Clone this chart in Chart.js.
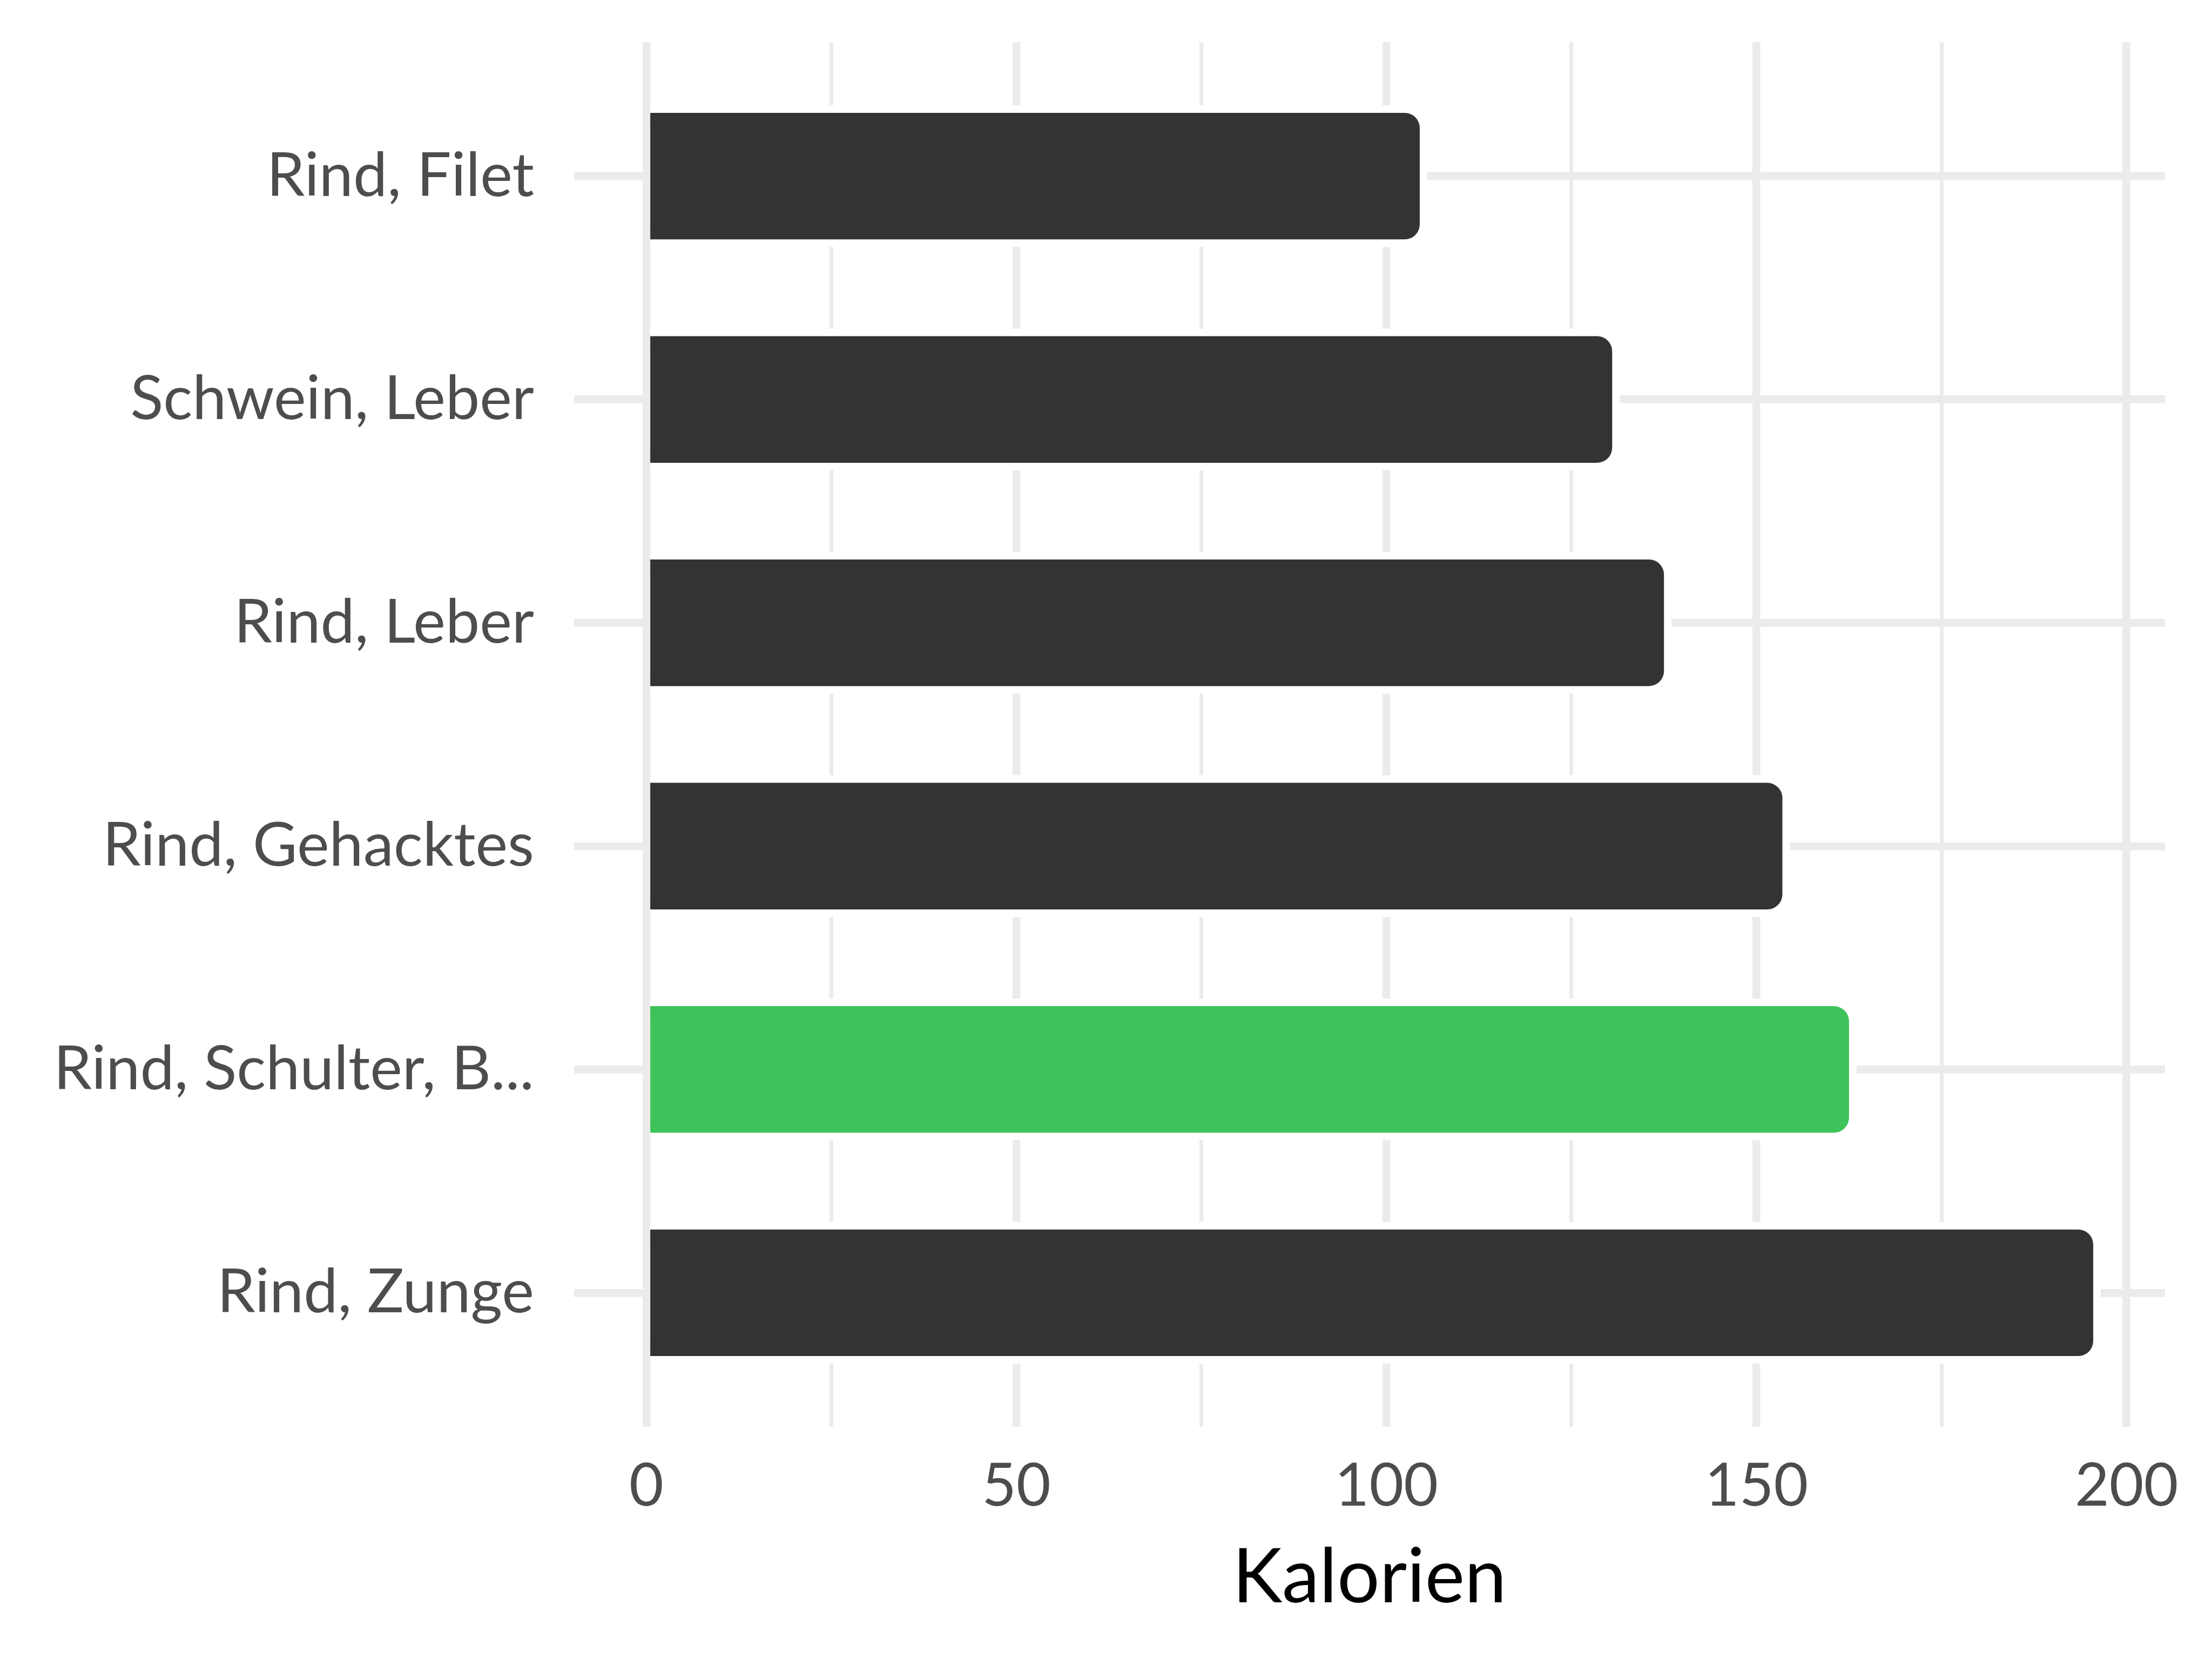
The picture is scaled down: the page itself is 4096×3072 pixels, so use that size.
<!DOCTYPE html>
<html>
<head>
<meta charset="utf-8">
<script src="https://cdn.jsdelivr.net/npm/chart.js@4/dist/chart.umd.min.js"></script>
<style>
  html, body { margin: 0; padding: 0; background: #fff; }
  #wrap { width: 4096px; height: 3072px; }
</style>
</head>
<body>
<div id="wrap"><canvas id="chart" width="4096" height="3072"></canvas></div>
<script>
// categories from top to bottom
var kategorien = [
  "Rind, Filet",
  "Schwein, Leber",
  "Rind, Leber",
  "Rind, Gehacktes",
  "Rind, Schulter, B...",
  "Rind, Zunge",
];
var kalorien = [104.5, 130.5, 137.5, 153.5, 162.5, 195.5];
var markiert = 4; // the green bar

var xTicks = [0, 25, 50, 75, 100, 125, 150, 175, 200];
var xMin = -9.77;
var xMax = 205.2;
var achsenTitel = "Kalorien";

var grau = "#333333";
var gruen = "#3EC35A";
var gitter = "#EBEBEB";

var farben = kalorien.map(function (v, i) {
  return i === markiert ? gruen : grau;
});

// white gap around the bars, like the reference
var luecke = {
  id: "luecke",
  beforeDatasetsDraw: function (chart) {
    var ctx = chart.ctx;
    var pad = 14;
    var r = 28;
    chart.getDatasetMeta(0).data.forEach(function (bar) {
      var p = bar.getProps(["x", "y", "base", "height"], true);
      var x0 = p.base;
      var x1 = p.x + pad;
      var y0 = p.y - p.height / 2 - pad;
      var y1 = p.y + p.height / 2 + pad;
      ctx.save();
      ctx.fillStyle = "#fff";
      ctx.beginPath();
      ctx.roundRect(x0, y0, x1 - x0, y1 - y0, [0, r + pad, r + pad, 0]);
      ctx.fill();
      ctx.restore();
    });
  },
};

new Chart(document.getElementById("chart"), {
  type: "bar",
  data: {
    datasets: [
      {
        data: kalorien.map(function (v, i) {
          return { x: v, y: i };
        }),
        backgroundColor: farben,
        borderWidth: 0,
        borderRadius: 28,
        borderSkipped: "start",
        barPercentage: 0.567,
        categoryPercentage: 1,
      },
    ],
  },
  plugins: [luecke],
  options: {
    indexAxis: "y",
    responsive: false,
    animation: false,
    devicePixelRatio: 1,
    layout: {
      padding: { top: 78, right: 87, left: 0, bottom: 0 },
    },
    plugins: {
      legend: { display: false },
      tooltip: { enabled: false },
    },
    scales: {
      x: {
        type: "linear",
        min: xMin,
        max: xMax,
        afterBuildTicks: function (scale) {
          scale.ticks = xTicks.map(function (v) {
            return { value: v };
          });
        },
        afterFit: function (scale) {
          scale.height = 430;
          scale.paddingLeft = 0;
          scale.paddingRight = 0;
        },
        border: { display: false },
        grid: {
          color: gitter,
          drawTicks: false,
          lineWidth: function (c) {
            return c.tick && c.tick.value % 50 === 0 ? 14.5 : 7;
          },
        },
        ticks: {
          padding: 45,
          color: "#4D4D4D",
          font: { family: "Lato", size: 110 },
          maxRotation: 0,
          autoSkip: false,
          callback: function (v) {
            return v % 50 === 0 ? String(v) : "";
          },
        },
        title: {
          display: true,
          text: achsenTitel,
          color: "#000000",
          font: { family: "Lato", size: 139 },
          padding: { top: 0, bottom: 66 },
        },
      },
      y: {
        type: "linear",
        reverse: true,
        offset: false,
        min: -0.6,
        max: 5.6,
        afterBuildTicks: function (scale) {
          scale.ticks = kategorien.map(function (k, i) {
            return { value: i };
          });
        },
        afterFit: function (scale) {
          scale.width = 1063;
          scale.paddingTop = 0;
          scale.paddingBottom = 0;
        },
        border: { display: false },
        grid: {
          color: gitter,
          drawTicks: false,
          offset: false,
          lineWidth: 14.5,
        },
        ticks: {
          padding: 74,
          color: "#4D4D4D",
          font: { family: "Lato", size: 113 },
          autoSkip: false,
          callback: function (v) {
            return kategorien[v];
          },
        },
      },
    },
  },
});
</script>
</body>
</html>
